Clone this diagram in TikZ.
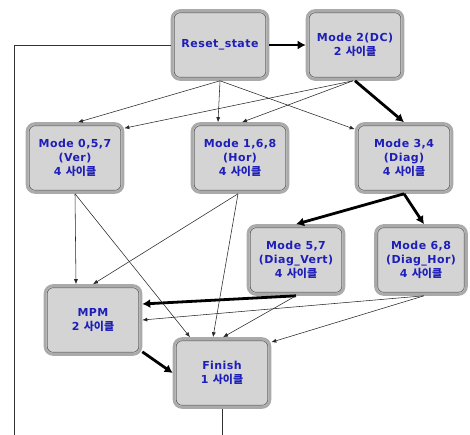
\documentclass[tikz,border=0pt]{standalone}
\usepackage{fontspec}
\setmainfont{DejaVu Sans}[LetterSpace=4]
\newfontfamily\kr{Noto Sans CJK KR}
\usetikzlibrary{arrows.meta}
\definecolor{txtblue}{RGB}{30,30,185}
\definecolor{boxfill}{RGB}{212,212,212}
\definecolor{boxrim}{RGB}{170,170,170}
\definecolor{boxin}{RGB}{100,100,100}
\newcommand{\cyc}[1]{#1 {\kr 사이클}}
\tikzset{
  mbox/.style={draw=boxrim, fill=boxfill, line width=2.6pt, rounded corners=8pt,
    minimum width=96pt, minimum height=69pt, align=center, inner sep=0pt,
    text=txtblue, font=\fontsize{11}{13.7}\selectfont\bfseries},
  inbox/.style={draw=boxin, line width=0.7pt, rounded corners=6pt},
  thin/.style={draw=black!85, line width=0.55pt, -{Latex[length=5pt,width=4pt]}},
  thick/.style={draw=black, line width=2.8pt, -{Latex[length=8pt,width=9pt]}},
  loopline/.style={draw=black!80, line width=0.8pt}
}
\begin{document}
\begin{tikzpicture}[x=1pt,y=-1pt]
\useasboundingbox (0,0) rectangle (470,434);
\clip (0,0) rectangle (470,434);
\node[mbox] (reset)  at (220,45)  {Reset\_state};
\node[mbox] (mode2)  at (355,45)  {Mode 2(DC)\\\cyc{2}};
\node[mbox] (m057)   at (75,158)  {Mode 0,5,7\\(Ver)\\\cyc{4}};
\node[mbox] (m168)   at (240,158) {Mode 1,6,8\\(Hor)\\\cyc{4}};
\node[mbox] (m34)    at (404,158) {Mode 3,4\\(Diag)\\\cyc{4}};
\node[mbox] (m57)    at (296,260) {Mode 5,7\\(Diag\_Vert)\\\cyc{4}};
\node[mbox, minimum width=91pt] (m68) at (421,260) {Mode 6,8\\(Diag\_Hor)\\\cyc{4}};
\node[mbox] (mpm)    at (93,320)  {MPM\\\cyc{2}};
\node[mbox] (finish) at (222,373) {Finish\\\cyc{1}};
\foreach \n in {reset,mode2,m057,m168,m34,m57,m68,mpm,finish}{
  \draw[inbox] ([shift={(3.5pt,-3.5pt)}]\n.north west) rectangle ([shift={(-3.5pt,3.5pt)}]\n.south east);
}
% feedback loop (cut by the frame)
\coordinate (lt) at (14,45);
\coordinate (lb) at (14,440);
\coordinate (fb) at (222,440);
\draw[loopline] (reset.west) -- (lt) -- (lb);
\draw[loopline] (finish.south) -- (fb);
% thick edges
\draw[thick] (reset.east) -- (mode2.west);
\draw[thick] (mode2.south) -- (m34.north);
\draw[thick] (m34.south) -- (m57.north);
\draw[thick] (m34.south) -- ([xshift=3pt]m68.north);
\draw[thick] (m57.south) -- ([yshift=16pt]mpm.east);
\draw[thick] ([yshift=4pt]mpm.south east) -- (finish.west);
% thin edges
\draw[thin] (reset.south) -- ([xshift=3pt]m057.north);
\draw[thin] (reset.south) -- ([xshift=-22pt]m168.north);
\draw[thin] (reset.south) -- ([yshift=-7pt]m34.north west);
\draw[thin] ([xshift=-2pt]mode2.south) -- ([yshift=-6pt]m057.north east);
\draw[thin] ([xshift=-2pt]mode2.south) -- ([xshift=2pt]m168.north);
\draw[thin] (m057.south) -- ([xshift=-17pt]mpm.north);
\draw[thin] (m057.south) -- ([xshift=-32pt]finish.north);
\draw[thin] ([xshift=-2pt]m168.south) -- (mpm.north);
\draw[thin] ([xshift=-2pt]m168.south) -- ([xshift=-9pt]finish.north);
\draw[thin] (m57.south) -- ([xshift=1pt]finish.north);
\draw[thin] ([xshift=3pt]m68.south) -- (mpm.east);
\draw[thin] ([xshift=3pt]m68.south) -- ([yshift=-5pt]finish.north east);
\end{tikzpicture}
\end{document}
